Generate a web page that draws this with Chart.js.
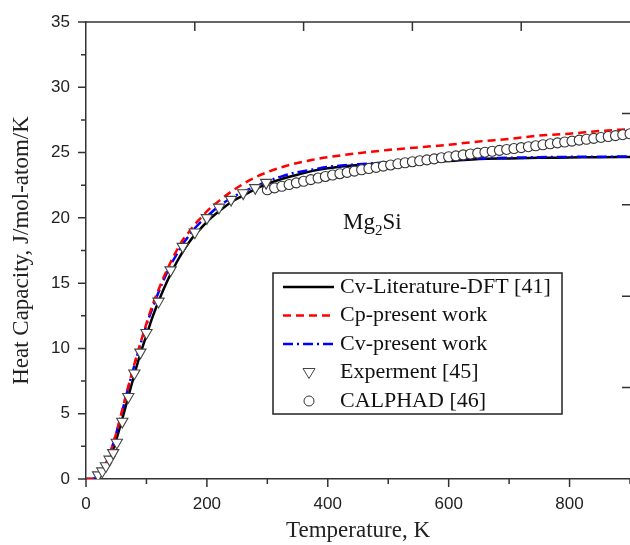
<!DOCTYPE html>
<html>
<head>
<meta charset="utf-8">
<title>Mg2Si heat capacity</title>
<script src="https://cdn.jsdelivr.net/npm/chart.js@4.4.1/dist/chart.umd.min.js"></script>
<style>
  body { margin: 0; background: #fff; }
  #chart-container { width: 630px; height: 545px; }
</style>
</head>
<body>
<div id="chart-container"><canvas id="heatChart" width="630" height="545"></canvas></div>
<script>
"use strict";

// Temperatures (K) for the three calculated curves.
const lineTemps = [0, 10, 20, 30, 40, 50, 60, 70, 80, 90, 100, 110, 120, 130, 140, 150, 160, 170, 180, 190,
    200, 220, 240, 260, 280, 300, 325, 350, 375, 400, 450, 500, 550, 600, 650, 700, 750, 800, 850, 900];
const cvLiterature = [0, 0, 0.1, 0.6, 1.6, 3.0, 4.6, 6.3, 8.0, 9.6, 11.0, 12.4, 13.6, 14.7, 15.7, 16.6, 17.4, 18.1, 18.7, 19.2,
    19.7, 20.5, 21.2, 21.7, 22.2, 22.6, 23.0, 23.3, 23.6, 23.8, 24.05, 24.2, 24.3, 24.35, 24.5, 24.55, 24.6, 24.62, 24.65, 24.66];
const cpPresent = [0, 0, 0.2, 0.9, 2.0, 3.5, 5.3, 7.1, 8.8, 10.4, 11.9, 13.3, 14.5, 15.6, 16.6, 17.5, 18.3, 18.9, 19.5, 20.0,
    20.5, 21.3, 22.0, 22.6, 23.1, 23.5, 23.9, 24.2, 24.45, 24.65, 24.95, 25.2, 25.4, 25.6, 25.85, 26.05, 26.3, 26.45, 26.65, 26.8];
const cvPresent = [0, 0, 0.2, 0.9, 2.0, 3.5, 5.2, 7.0, 8.7, 10.3, 11.8, 13.1, 14.3, 15.4, 16.4, 17.2, 18.0, 18.6, 19.2, 19.7,
    20.1, 20.9, 21.5, 22.0, 22.4, 22.8, 23.2, 23.5, 23.7, 23.9, 24.1, 24.25, 24.35, 24.45, 24.55, 24.6, 24.65, 24.67, 24.68, 24.7];

// Experimental points [45].
const expTemps = [20, 27, 33, 39, 45, 51, 60, 70, 80, 90, 100, 120, 140, 160, 180, 200, 220, 240, 260, 280, 298];
const expValues = [0.3, 0.6, 1.0, 1.5, 2.0, 2.8, 4.4, 6.3, 8.1, 9.7, 11.2, 13.6, 16.0, 17.8, 18.9, 20.0, 20.8, 21.4, 21.9, 22.3, 22.7];

// CALPHAD points [46].
const calphadTemps = [300, 312, 324, 336, 348, 360, 372, 384, 396, 408, 420, 432, 444, 456, 468, 480, 492, 504, 516, 528,
    540, 552, 564, 576, 588, 600, 612, 624, 636, 648, 660, 672, 684, 696, 708, 720, 732, 744, 756, 768,
    780, 792, 804, 816, 828, 840, 852, 864, 876, 888, 900];
const calphadValues = [22.15, 22.3, 22.42, 22.55, 22.68, 22.8, 22.93, 23.05, 23.17, 23.28, 23.38, 23.48, 23.58, 23.68, 23.78, 23.87, 23.96, 24.05, 24.14, 24.22,
    24.3, 24.37, 24.44, 24.52, 24.6, 24.68, 24.75, 24.82, 24.89, 24.96, 25.03, 25.1, 25.17, 25.24, 25.31, 25.38, 25.45, 25.52, 25.6, 25.67,
    25.74, 25.81, 25.88, 25.95, 26.02, 26.09, 26.16, 26.23, 26.3, 26.37, 26.44];

// Axis ticks.
const xTickLabels = [0, 200, 400, 600, 800];
const xMinorTicks = [100, 300, 500, 700, 900];
const yTickLabels = [0, 5, 10, 15, 20, 25, 30, 35];
const yMinorTicks = [2.5, 7.5, 12.5, 17.5, 22.5, 27.5, 32.5];
// Inward ticks on the top and right frame.
const topTicks = [180, 360, 540, 720];
const rightTicks = [7, 14, 21, 28];

const serif = "'Liberation Serif', 'Times New Roman', serif";
const sans = "'Liberation Sans', Arial, sans-serif";

// Pairs x and y arrays into points.
function toPoints(xs, ys) {
    return xs.map((x, i) => ({ x: x, y: ys[i] }));
}

// Draws the frame ticks, the legend box and the Mg2Si label.
const extrasPlugin = {
    id: 'extras',
    afterDraw(chart) {
        const { ctx, chartArea: area, scales: { x, y } } = chart;
        ctx.save();
        ctx.strokeStyle = '#333';
        ctx.lineWidth = 1.5;
        ctx.beginPath();
        // Top frame line.
        ctx.moveTo(area.left, area.top);
        ctx.lineTo(area.right, area.top);
        // Left ticks (outward).
        yTickLabels.forEach(v => { const p = y.getPixelForValue(v); ctx.moveTo(area.left - 8, p); ctx.lineTo(area.left, p); });
        yMinorTicks.forEach(v => { const p = y.getPixelForValue(v); ctx.moveTo(area.left - 5, p); ctx.lineTo(area.left, p); });
        // Bottom ticks (outward).
        xTickLabels.forEach(v => { const p = x.getPixelForValue(v); ctx.moveTo(p, area.bottom); ctx.lineTo(p, area.bottom + 8); });
        xMinorTicks.forEach(v => { const p = x.getPixelForValue(v); ctx.moveTo(p, area.bottom); ctx.lineTo(p, area.bottom + 5); });
        // Top and right ticks (inward).
        topTicks.forEach(v => { const p = x.getPixelForValue(v); ctx.moveTo(p, area.top); ctx.lineTo(p, area.top + 9); });
        rightTicks.forEach(v => { const p = y.getPixelForValue(v); ctx.moveTo(area.right, p); ctx.lineTo(area.right - 8, p); });
        ctx.stroke();

        // Legend box.
        const box = { left: 273, top: 273, right: 562, bottom: 414 };
        ctx.lineWidth = 1.5;
        ctx.strokeStyle = '#222';
        ctx.strokeRect(box.left, box.top, box.right - box.left, box.bottom - box.top);

        const order = [4, 2, 3, 0, 1];
        ctx.font = '22px ' + serif;
        ctx.fillStyle = '#111';
        ctx.textBaseline = 'middle';
        order.forEach((idx, row) => {
            const ds = chart.data.datasets[idx];
            const rowY = 287 + row * 28.5;
            if (ds.showLine === false) {
                ctx.save();
                ctx.setLineDash([]);
                ctx.lineWidth = 1;
                ctx.fillStyle = '#fff';
                ctx.strokeStyle = ds.pointBorderColor;
                ctx.beginPath();
                if (ds.pointStyle === 'triangle') {
                    ctx.moveTo(303, rowY - 4);
                    ctx.lineTo(315, rowY - 4);
                    ctx.lineTo(309, rowY + 6);
                    ctx.closePath();
                } else {
                    ctx.arc(309, rowY, 5, 0, Math.PI * 2);
                }
                ctx.fill();
                ctx.stroke();
                ctx.restore();
            } else {
                ctx.save();
                ctx.strokeStyle = ds.borderColor;
                ctx.lineWidth = ds.borderWidth;
                ctx.setLineDash(ds.borderDash || []);
                ctx.beginPath();
                ctx.moveTo(283, rowY);
                ctx.lineTo(334, rowY);
                ctx.stroke();
                ctx.restore();
            }
            ctx.fillText(ds.label, 340, rowY);
        });

        // Compound label with subscript.
        ctx.textBaseline = 'alphabetic';
        ctx.font = '23px ' + serif;
        let tx = 343;
        ctx.fillText('Mg', tx, 229);
        tx += ctx.measureText('Mg').width;
        ctx.font = '15px ' + serif;
        ctx.fillText('2', tx, 235);
        tx += ctx.measureText('2').width;
        ctx.font = '23px ' + serif;
        ctx.fillText('Si', tx, 229);
        ctx.restore();
    }
};

const ctx = document.getElementById('heatChart');

new Chart(ctx, {
    type: 'line',
    data: {
        datasets: [
            {
                label: 'Experment [45]',
                data: toPoints(expTemps, expValues),
                showLine: false,
                pointStyle: 'triangle',
                pointRotation: 180,
                pointRadius: 6.5,
                pointBackgroundColor: '#fff',
                pointBorderColor: '#444',
                pointBorderWidth: 1.1
            },
            {
                label: 'CALPHAD [46]',
                data: toPoints(calphadTemps, calphadValues),
                showLine: false,
                pointStyle: 'circle',
                pointRadius: 5,
                pointBackgroundColor: '#fff',
                pointBorderColor: '#333',
                pointBorderWidth: 1.1
            },
            {
                label: 'Cp-present work',
                data: toPoints(lineTemps, cpPresent),
                borderColor: '#ff0000',
                borderWidth: 2.5,
                borderDash: [8, 5],
                pointRadius: 0,
                cubicInterpolationMode: 'monotone'
            },
            {
                label: 'Cv-present work',
                data: toPoints(lineTemps, cvPresent),
                borderColor: '#0000ff',
                borderWidth: 2.5,
                borderDash: [10, 4, 2, 4],
                pointRadius: 0,
                cubicInterpolationMode: 'monotone'
            },
            {
                label: 'Cv-Literature-DFT [41]',
                data: toPoints(lineTemps, cvLiterature),
                borderColor: '#000',
                borderWidth: 2.5,
                pointRadius: 0,
                cubicInterpolationMode: 'monotone'
            }
        ]
    },
    options: {
        responsive: false,
        animation: false,
        // No extra room for point overflow, the plot runs to the right edge.
        layout: { autoPadding: false, padding: { top: 22, right: 0, left: 0, bottom: 0 } },
        plugins: {
            legend: { display: false },
            tooltip: { enabled: false }
        },
        scales: {
            x: {
                type: 'linear',
                min: 0,
                max: 900,
                afterBuildTicks: axis => { axis.ticks = xTickLabels.map(v => ({ value: v })); },
                afterFit: axis => { axis.height = 66; axis.paddingRight = 0; },
                grid: { display: false, drawTicks: false },
                border: { display: true, color: '#333', width: 1.5 },
                ticks: { padding: 15, color: '#222', maxRotation: 0, font: { family: sans, size: 17 } },
                title: {
                    display: true,
                    text: 'Temperature, K',
                    color: '#222',
                    padding: { top: 0, bottom: 0 },
                    font: { family: serif, size: 23 }
                }
            },
            y: {
                type: 'linear',
                min: 0,
                max: 35,
                afterBuildTicks: axis => { axis.ticks = yTickLabels.map(v => ({ value: v })); },
                // Fixed width; drop the label overhang so the plot top sits at the layout padding.
                afterFit: axis => { axis.width = 86; axis.paddingTop = 0; axis.paddingBottom = 0; },
                grid: { display: false, drawTicks: false },
                border: { display: true, color: '#333', width: 1.5 },
                ticks: { padding: 16, color: '#222', font: { family: sans, size: 17 } },
                title: {
                    display: true,
                    text: 'Heat Capacity, J/mol-atom/K',
                    color: '#222',
                    padding: { top: 8, bottom: 0 },
                    font: { family: serif, size: 23 }
                }
            }
        }
    },
    plugins: [extrasPlugin]
});
</script>
</body>
</html>
